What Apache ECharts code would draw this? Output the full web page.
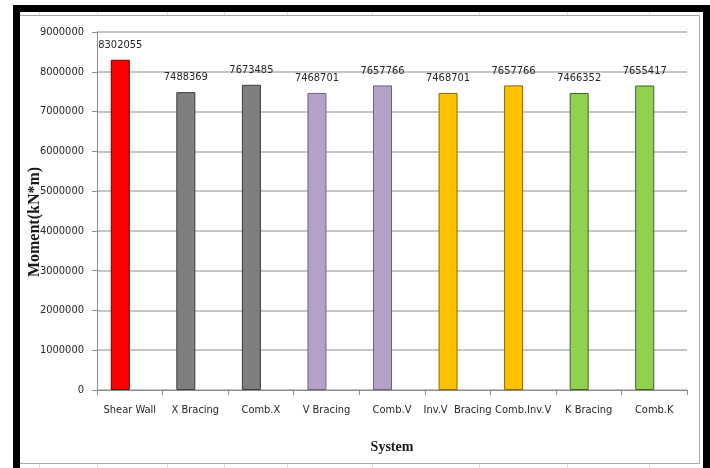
<!DOCTYPE html>
<html>
<head>
<meta charset="utf-8">
<script src="https://cdn.jsdelivr.net/npm/echarts@6/dist/echarts.min.js"></script>
<style>
  html, body { margin: 0; padding: 0; background: #ffffff; }
  #chart { width: 710px; height: 468px; }
</style>
</head>
<body>
<div id="chart"></div>
<script>
// Structural systems compared
const systems = ['Shear Wall', 'X Bracing', 'Comb.X', 'V Bracing', 'Comb.V',
                 'Inv.V  Bracing', 'Comb.Inv.V', 'K Bracing', 'Comb.K'];
// Base moment for each system (kN*m)
const moments = [8302055, 7488369, 7673485, 7468701, 7657766,
                 7468701, 7657766, 7466352, 7655417];
// Fill / outline per system family
const fills   = ['#FF0000', '#7F7F7F', '#7F7F7F', '#B3A2C7', '#B3A2C7',
                 '#FFC000', '#FFC000', '#92D050', '#92D050'];
const strokes = ['#600000', '#3a3a3a', '#3a3a3a', '#6e6280', '#6e6280',
                 '#8a6a00', '#8a6a00', '#3d6420', '#3d6420'];
// Value axis ticks
const yTicks = [0, 1000000, 2000000, 3000000, 4000000, 5000000, 6000000, 7000000, 8000000, 9000000];

const narrow = '"Liberation Sans Narrow", "DejaVu Sans Condensed", "Liberation Sans", sans-serif';
const serif = '"Liberation Serif", "DejaVu Serif", serif';

const chart = echarts.init(document.getElementById('chart'), null, { renderer: 'canvas' });

// Spreadsheet cell lines peeking out around the chart object
const colLines = [39, 97, 167, 224, 287, 372, 479, 567, 649];
const sheetLines = [];
colLines.forEach(x => {
  sheetLines.push({ type: 'line', silent: true, shape: { x1: x + 0.5, y1: 12, x2: x + 0.5, y2: 15 }, style: { stroke: '#dcdcdc', lineWidth: 1 } });
  sheetLines.push({ type: 'line', silent: true, shape: { x1: x + 0.5, y1: 464, x2: x + 0.5, y2: 468 }, style: { stroke: '#dcdcdc', lineWidth: 1 } });
});

chart.setOption({
  backgroundColor: '#ffffff',
  animation: false,
  grid: { left: 97, right: 23, top: 32, bottom: 78, containLabel: false },
  xAxis: {
    type: 'category',
    data: systems,
    name: 'System',
    nameLocation: 'middle',
    nameGap: 50,
    nameMoveOverlap: false,
    nameTextStyle: { fontFamily: serif, fontWeight: 'bold', fontSize: 14, color: '#1a1a1a' },
    axisLine: { lineStyle: { color: '#8c8c8c', width: 1 } },
    axisTick: { show: true, alignWithLabel: false, length: 5, lineStyle: { color: '#8c8c8c' } },
    axisLabel: { fontFamily: narrow, fontSize: 11, color: '#262626', margin: 15, interval: 0 },
    splitLine: { show: false }
  },
  yAxis: {
    type: 'value',
    min: yTicks[0],
    max: yTicks[yTicks.length - 1],
    interval: yTicks[1] - yTicks[0],
    name: 'Moment(kN*m)',
    nameLocation: 'middle',
    nameGap: 54,
    nameMoveOverlap: false,
    nameTextStyle: { fontFamily: serif, fontWeight: 'bold', fontSize: 16, color: '#1a1a1a', padding: [0, 22, 0, 0] },
    axisLine: { show: true, lineStyle: { color: '#8c8c8c', width: 1 } },
    axisTick: { show: true, length: 5, lineStyle: { color: '#8c8c8c' } },
    axisLabel: { fontFamily: narrow, fontSize: 11, color: '#262626', margin: 13, formatter: v => String(v) },
    splitLine: { lineStyle: { color: '#b3b3b3', width: 1.5 } }
  },
  series: [
    {
      type: 'bar',
      barWidth: 19,
      barGap: '0%',
      data: moments.map((v, i) => ({
        value: v,
        itemStyle: { color: fills[i], borderColor: strokes[i], borderWidth: 1 }
      })),
      label: {
        show: true,
        position: 'top',
        distance: 9,
        fontFamily: narrow,
        fontSize: 11,
        color: '#262626'
      }
    },
    {
      // second, unused slot of each cluster
      type: 'bar',
      barWidth: 19,
      barGap: '0%',
      data: systems.map(() => '-')
    }
  ],
  graphic: [
    // chart object border
    { type: 'rect', silent: true, z: 100, shape: { x: 19.5, y: 15.5, width: 680, height: 448 }, style: { fill: 'none', stroke: '#a8a8a8', lineWidth: 1 } },
    // heavy black frame
    { type: 'rect', silent: true, z: 100, shape: { x: 13, y: 5, width: 7, height: 463 }, style: { fill: '#000000' } },
    { type: 'rect', silent: true, z: 100, shape: { x: 13, y: 5, width: 697, height: 7 }, style: { fill: '#000000' } },
    { type: 'rect', silent: true, z: 100, shape: { x: 703, y: 5, width: 7, height: 463 }, style: { fill: '#000000' } }
  ].concat(sheetLines)
});
</script>
</body>
</html>
